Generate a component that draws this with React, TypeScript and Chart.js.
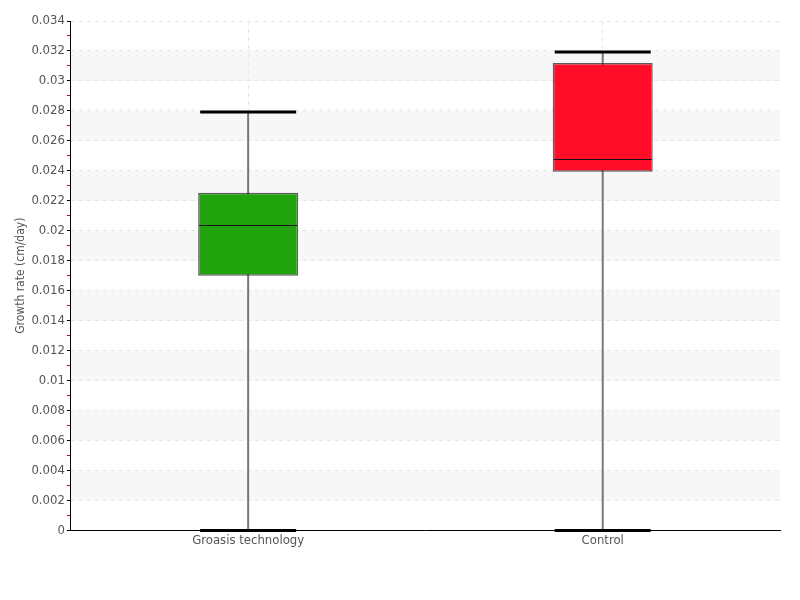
import React, { useEffect, useRef } from "react";
import { Chart, registerables } from "chart.js";

Chart.register(...registerables);

const categories = ["Groasis technology", "Control"];
const mins = [0, 0];
const q1s = [0.017, 0.02393];
const medians = [0.0204, 0.0248];
const q3s = [0.02253, 0.0312];
const maxs = [0.02793, 0.03193];
const boxColors = ["#21a30d", "#ff0d29"];
const yTitle = "Growth rate (cm/day)";
const yMin = 0;
const yMax = 0.034;
const yMinorStep = 0.001;
const yMajorStep = 0.002;

const FONT = "'DejaVu Sans Condensed', 'Liberation Sans Narrow', sans-serif";

const isMajor = (v: number) => Math.round(v / yMinorStep) % Math.round(yMajorStep / yMinorStep) === 0;

const bandsPlugin = {
  id: "bands",
  beforeDraw(chart: any) {
    const { ctx, chartArea, scales } = chart;
    const y = scales.y;
    ctx.save();
    ctx.fillStyle = "#f7f7f7";
    for (let v = yMajorStep; v < yMax - 1e-9; v += 2 * yMajorStep) {
      const top = y.getPixelForValue(v + yMajorStep);
      const bot = y.getPixelForValue(v);
      ctx.fillRect(chartArea.left, top, chartArea.right - chartArea.left, bot - top);
    }
    ctx.restore();
  },
};

const boxPlugin = {
  id: "boxwhisker",
  beforeDatasetsDraw(chart: any) {
    const { ctx, scales } = chart;
    const y = scales.y;
    const meta = chart.getDatasetMeta(0);
    ctx.save();
    meta.data.forEach((bar: any, i: number) => {
      const x = bar.x;
      const half = bar.width / 2 - 2;
      ctx.strokeStyle = "#777";
      ctx.lineWidth = 2;
      ctx.beginPath();
      ctx.moveTo(x, y.getPixelForValue(mins[i]));
      ctx.lineTo(x, y.getPixelForValue(maxs[i]));
      ctx.stroke();
      ctx.strokeStyle = "#000";
      ctx.lineWidth = 3;
      [mins[i], maxs[i]].forEach((v) => {
        const py = y.getPixelForValue(v);
        ctx.beginPath();
        ctx.moveTo(x - half, py);
        ctx.lineTo(x + half, py);
        ctx.stroke();
      });
    });
    ctx.restore();
  },
  afterDatasetsDraw(chart: any) {
    const { ctx, scales } = chart;
    const y = scales.y;
    const meta = chart.getDatasetMeta(0);
    ctx.save();
    meta.data.forEach((bar: any, i: number) => {
      const half = bar.width / 2 - 1;
      const py = Math.round(y.getPixelForValue(medians[i])) + 0.5;
      ctx.strokeStyle = "#111";
      ctx.lineWidth = 1;
      ctx.beginPath();
      ctx.moveTo(bar.x - half, py);
      ctx.lineTo(bar.x + half, py);
      ctx.stroke();
    });
    ctx.restore();
  },
};

export default function App() {
  const ref = useRef<HTMLCanvasElement>(null);
  useEffect(() => {
    if (!ref.current) return;
    const chart = new Chart(ref.current, {
      type: "bar",
      data: {
        labels: categories,
        datasets: [
          {
            data: categories.map((_, i) => [q1s[i], q3s[i]]) as any,
            backgroundColor: boxColors,
            borderColor: "rgba(40,40,40,0.75)",
            borderWidth: 1.5,
            borderSkipped: false,
            barPercentage: 0.282,
            categoryPercentage: 1,
          },
        ],
      },
      options: {
        animation: false,
        responsive: true,
        maintainAspectRatio: false,
        layout: { padding: { top: 21, right: 20, bottom: 50, left: 13 } },
        plugins: {
          legend: { display: false },
          tooltip: { enabled: false },
        },
        scales: {
          x: {
            grid: {
              offset: false,
              color: "#e6e6e6",
              drawTicks: false,
            },
            border: { color: "#000", width: 1, dash: [4, 4] },
            ticks: { color: "#555", font: { family: FONT, size: 13 }, padding: 2 },
          },
          y: {
            min: yMin,
            max: yMax,
            grid: {
              color: (c: any) => (isMajor(c.tick?.value ?? 0) ? "#e6e6e6" : "rgba(0,0,0,0)"),
              tickColor: (c: any) => (isMajor(c.tick?.value ?? 0) ? "#000" : "#d00"),
              tickLength: 4,
            },
            border: { color: "#000", width: 1, dash: [4, 4] },
            ticks: {
              stepSize: yMinorStep,
              autoSkip: false,
              color: "#555",
              font: { family: FONT, size: 13 },
              padding: 2,
              callback: (v: any) => (isMajor(Number(v)) ? String(Number(Number(v).toFixed(3))) : ""),
            },
            title: {
              display: true,
              text: yTitle,
              color: "#555",
              font: { family: FONT, size: 12 },
              padding: 1,
            },
          },
        },
      },
      plugins: [bandsPlugin, boxPlugin],
    });
    return () => chart.destroy();
  }, []);
  return (
    <div style={{ position: "fixed", left: 0, top: 0, width: 800, height: 600 }}>
      <canvas ref={ref} />
    </div>
  );
}
